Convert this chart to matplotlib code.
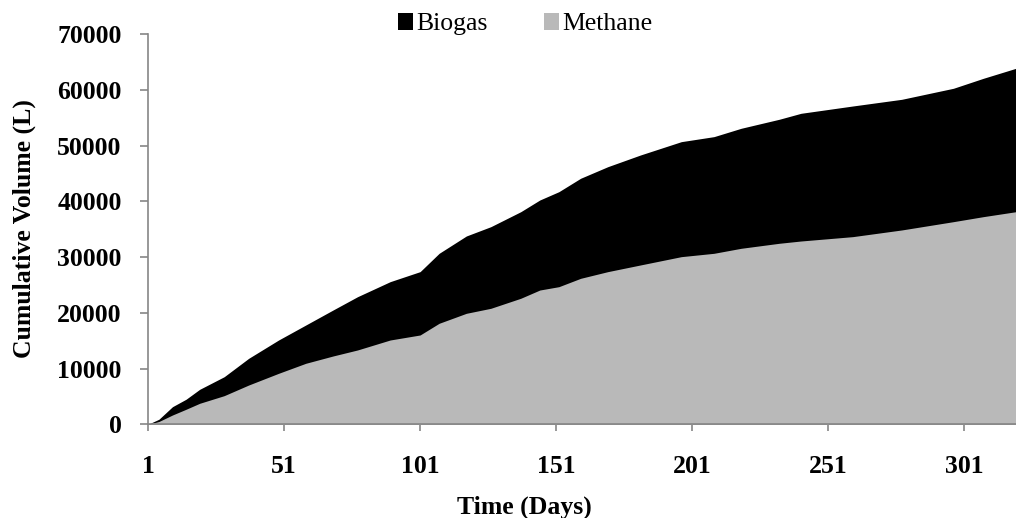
import matplotlib.pyplot as plt
from matplotlib.patches import Patch

# Values (day, cumulative litres)
days = [1, 5, 10, 15, 20, 29, 38, 49, 59, 69, 78, 90, 101, 108, 118, 127,
        138, 145, 152, 160, 170, 182, 197, 209, 219, 233, 241, 260, 278,
        297, 308, 320]
biogas = [0, 900, 3160, 4500, 6280, 8540, 11840, 15130, 17820, 20510,
          22900, 25600, 27400, 30690, 33800, 35470, 38160, 40260, 41750,
          44160, 46240, 48340, 50730, 51630, 53130, 54750, 55820, 57130,
          58330, 60310, 62100, 63900]
methane = [0, 500, 1670, 2700, 3770, 5140, 7050, 9150, 10950, 12260,
           13340, 15130, 16030, 18130, 19920, 20820, 22620, 24100, 24700,
           26200, 27400, 28600, 30090, 30690, 31590, 32490, 32900, 33680,
           34880, 36370, 37270, 38160]

x_ticks = [1, 51, 101, 151, 201, 251, 301]
y_ticks = [0, 10000, 20000, 30000, 40000, 50000, 60000, 70000]

plt.rcParams["font.family"] = ["Liberation Serif", "DejaVu Serif"]
axis_grey = "#868686"
black = "#000000"
grey = "#b9b9b9"

fig = plt.figure(figsize=(10.16, 5.18), dpi=100)
ax = fig.add_axes([148 / 1016, 93.7 / 518, 1 - 148 / 1016, 390 / 518])

ax.fill_between(days, biogas, color=black, linewidth=0, zorder=1)
ax.fill_between(days, methane, color=grey, linewidth=0, zorder=2)

ax.set_xlim(1, 320)
ax.set_ylim(0, 70000)
ax.set_xticks(x_ticks)
ax.set_yticks(y_ticks)

for side in ["top", "right"]:
    ax.spines[side].set_visible(False)
for side in ["left", "bottom"]:
    ax.spines[side].set_color(axis_grey)
    ax.spines[side].set_linewidth(1.2)
    ax.spines[side].set_zorder(3)

ax.tick_params(axis="both", direction="out", color=axis_grey, width=1.2,
               labelsize=18.5)
ax.tick_params(axis="y", length=6, pad=13)
ax.tick_params(axis="x", length=5, pad=17)
for lbl in ax.get_xticklabels() + ax.get_yticklabels():
    lbl.set_fontweight("bold")

fig.text(24 / 1016, 1 - 229 / 518, "Cumulative Volume (L)", rotation=90,
         ha="center", va="center", fontsize=18.5, fontweight="bold")
fig.text(524 / 1016, 4 / 518, "Time (Days)", ha="center", va="baseline",
         fontsize=18.5, fontweight="bold")

handles = [Patch(facecolor=black, label="Biogas"),
           Patch(facecolor=grey, label="Methane")]
fig.legend(handles=handles, loc="upper center", ncol=2,
           bbox_to_anchor=(525 / 1016, 1.0 - 3 / 518), frameon=False,
           fontsize=18.5, handlelength=0.6, handleheight=0.6,
           handletextpad=0.1, columnspacing=2.2, borderaxespad=0.0)

fig.savefig("out.png", dpi=100)
